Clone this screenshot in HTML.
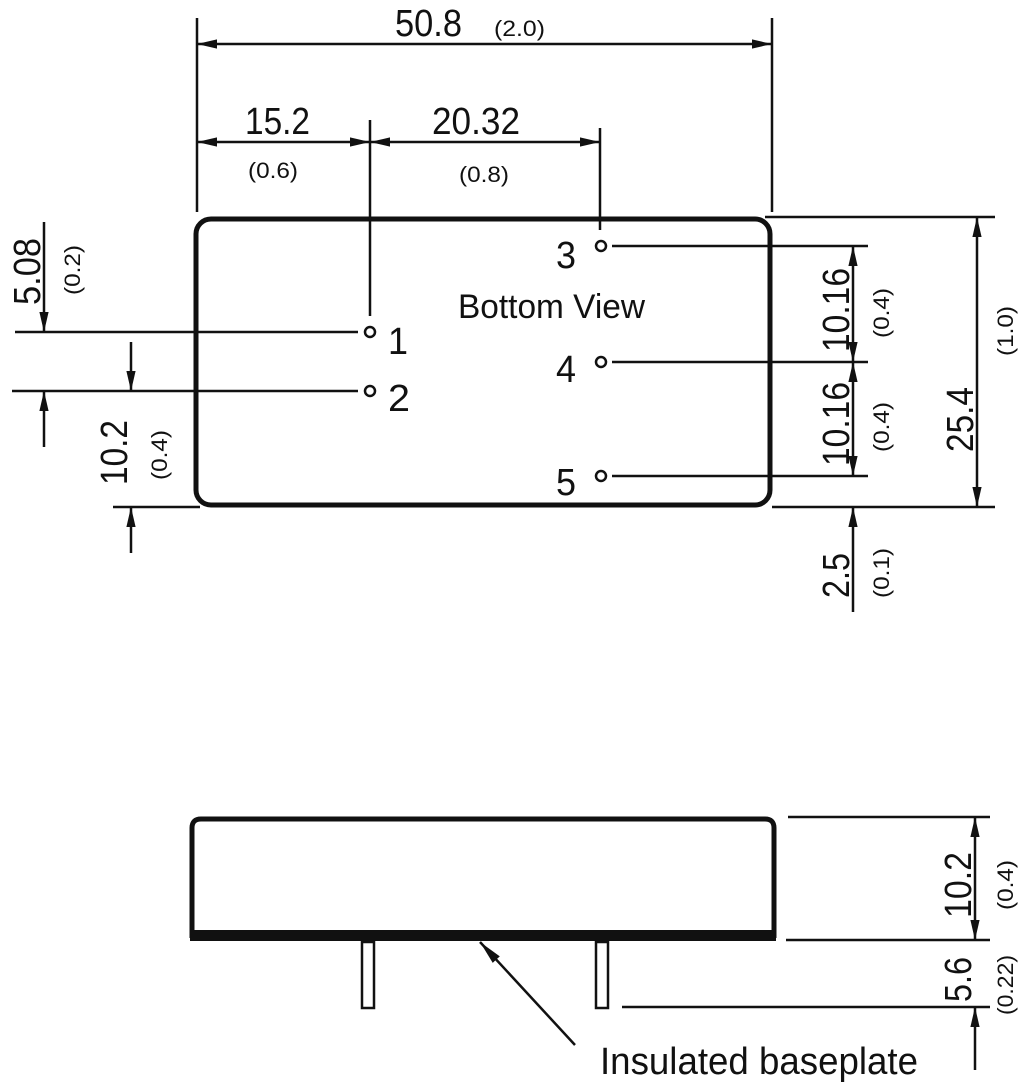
<!DOCTYPE html>
<html><head><meta charset="utf-8"><style>
html,body{margin:0;padding:0;background:#fff}
text{font-family:"Liberation Sans Narrow","Liberation Sans",sans-serif;fill:#111}
</style></head><body>
<svg width="1024" height="1086" viewBox="0 0 1024 1086" xmlns="http://www.w3.org/2000/svg">
<defs>
<marker id="a" viewBox="0 0 10 10" refX="10" refY="5" markerWidth="20" markerHeight="20" markerUnits="userSpaceOnUse" orient="auto-start-reverse"><path d="M0,2.7 L10,5 L0,7.3 z" fill="#111"/></marker>
<marker id="b" viewBox="0 0 10 10" refX="10" refY="5" markerWidth="24" markerHeight="24" markerUnits="userSpaceOnUse" orient="auto-start-reverse"><path d="M0,3 L10,5 L0,7 z" fill="#111"/></marker>
</defs>
<g stroke="#111" stroke-width="2.5" fill="none">
<rect x="196" y="219" width="574" height="286" rx="15" stroke-width="5"/>
<line x1="197" y1="18" x2="197" y2="212"/>
<line x1="772" y1="18" x2="772" y2="212"/>
<line x1="370" y1="120" x2="370" y2="316"/>
<line x1="600" y1="128" x2="600" y2="230"/>
<line x1="15" y1="332" x2="358" y2="332"/>
<line x1="12" y1="391" x2="358" y2="391"/>
<line x1="113" y1="507" x2="200" y2="507"/>
<line x1="612" y1="246" x2="868" y2="246"/>
<line x1="612" y1="362" x2="868" y2="362"/>
<line x1="612" y1="476" x2="868" y2="476"/>
<line x1="765" y1="217" x2="995" y2="217"/>
<line x1="772" y1="507" x2="995" y2="507"/>
<line x1="197" y1="44" x2="772" y2="44" marker-start="url(#a)" marker-end="url(#a)"/>
<line x1="197" y1="142" x2="370" y2="142" marker-start="url(#a)" marker-end="url(#a)"/>
<line x1="370" y1="142" x2="600" y2="142" marker-start="url(#a)" marker-end="url(#a)"/>
<line x1="44" y1="222" x2="44" y2="332" marker-end="url(#a)"/>
<line x1="44" y1="447" x2="44" y2="391" marker-end="url(#a)"/>
<line x1="131" y1="342" x2="131" y2="391" marker-end="url(#a)"/>
<line x1="131" y1="553" x2="131" y2="507" marker-end="url(#a)"/>
<line x1="853" y1="246" x2="853" y2="362" marker-start="url(#a)" marker-end="url(#a)"/>
<line x1="853" y1="362" x2="853" y2="476" marker-start="url(#a)" marker-end="url(#a)"/>
<line x1="853" y1="612" x2="853" y2="507" marker-end="url(#a)"/>
<line x1="977" y1="217" x2="977" y2="507" marker-start="url(#a)" marker-end="url(#a)"/>
<circle cx="370" cy="332" r="5"/>
<circle cx="370" cy="391" r="5"/>
<circle cx="601" cy="246" r="5"/>
<circle cx="601" cy="362" r="5"/>
<circle cx="601" cy="476" r="5"/>
<path d="M192,938 L192,828 Q192,819 201,819 L765,819 Q774,819 774,828 L774,938" stroke-width="5"/>
<rect x="362" y="942" width="12" height="66" stroke-width="2.5"/>
<rect x="596" y="942" width="12" height="66" stroke-width="2.5"/>
<line x1="788" y1="817" x2="990" y2="817"/>
<line x1="786" y1="940" x2="990" y2="940"/>
<line x1="622" y1="1007" x2="990" y2="1007"/>
<line x1="975" y1="817" x2="975" y2="940" marker-start="url(#a)" marker-end="url(#a)"/>
<line x1="975" y1="1070" x2="975" y2="1007" marker-end="url(#a)"/>
<line x1="575" y1="1045" x2="480" y2="942" marker-end="url(#b)"/>
</g>
<rect x="190" y="930" width="586" height="11" fill="#111"/>
<g font-size="38">
<text x="395" y="36" textLength="67" lengthAdjust="spacingAndGlyphs">50.8</text>
<text x="245" y="134" textLength="65" lengthAdjust="spacingAndGlyphs">15.2</text>
<text x="432" y="134" textLength="88" lengthAdjust="spacingAndGlyphs">20.32</text>
<text x="388" y="354" textLength="20" lengthAdjust="spacingAndGlyphs">1</text>
<text x="388" y="411" textLength="22" lengthAdjust="spacingAndGlyphs">2</text>
<text x="556" y="268" textLength="20" lengthAdjust="spacingAndGlyphs">3</text>
<text x="556" y="382" textLength="20" lengthAdjust="spacingAndGlyphs">4</text>
<text x="556" y="495" textLength="20" lengthAdjust="spacingAndGlyphs">5</text>
<text transform="translate(40,305) rotate(-90)" textLength="67" lengthAdjust="spacingAndGlyphs">5.08</text>
<text transform="translate(127,485) rotate(-90)" textLength="65" lengthAdjust="spacingAndGlyphs">10.2</text>
<text transform="translate(849,352) rotate(-90)" textLength="84" lengthAdjust="spacingAndGlyphs">10.16</text>
<text transform="translate(849,466) rotate(-90)" textLength="84" lengthAdjust="spacingAndGlyphs">10.16</text>
<text transform="translate(849,598) rotate(-90)" textLength="45" lengthAdjust="spacingAndGlyphs">2.5</text>
<text transform="translate(973,452) rotate(-90)" textLength="65" lengthAdjust="spacingAndGlyphs">25.4</text>
<text transform="translate(971,918) rotate(-90)" textLength="66" lengthAdjust="spacingAndGlyphs">10.2</text>
<text transform="translate(971,1002) rotate(-90)" textLength="45" lengthAdjust="spacingAndGlyphs">5.6</text>
</g>
<text x="458" y="318" font-size="34" textLength="187" lengthAdjust="spacingAndGlyphs">Bottom View</text>
<text x="600" y="1074" font-size="38" textLength="318" lengthAdjust="spacingAndGlyphs">Insulated baseplate</text>
<g font-size="22">
<text x="494" y="36" textLength="51" lengthAdjust="spacingAndGlyphs">(2.0)</text>
<text x="248" y="178" textLength="50" lengthAdjust="spacingAndGlyphs">(0.6)</text>
<text x="459" y="182" textLength="50" lengthAdjust="spacingAndGlyphs">(0.8)</text>
<text transform="translate(80,295) rotate(-90)" textLength="50" lengthAdjust="spacingAndGlyphs">(0.2)</text>
<text transform="translate(167,480) rotate(-90)" textLength="50" lengthAdjust="spacingAndGlyphs">(0.4)</text>
<text transform="translate(889,338) rotate(-90)" textLength="50" lengthAdjust="spacingAndGlyphs">(0.4)</text>
<text transform="translate(889,452) rotate(-90)" textLength="50" lengthAdjust="spacingAndGlyphs">(0.4)</text>
<text transform="translate(889,598) rotate(-90)" textLength="50" lengthAdjust="spacingAndGlyphs">(0.1)</text>
<text transform="translate(1013,356) rotate(-90)" textLength="50" lengthAdjust="spacingAndGlyphs">(1.0)</text>
<text transform="translate(1013,910) rotate(-90)" textLength="50" lengthAdjust="spacingAndGlyphs">(0.4)</text>
<text transform="translate(1013,1015) rotate(-90)" textLength="60" lengthAdjust="spacingAndGlyphs">(0.22)</text>
</g>
</svg>
</body></html>
